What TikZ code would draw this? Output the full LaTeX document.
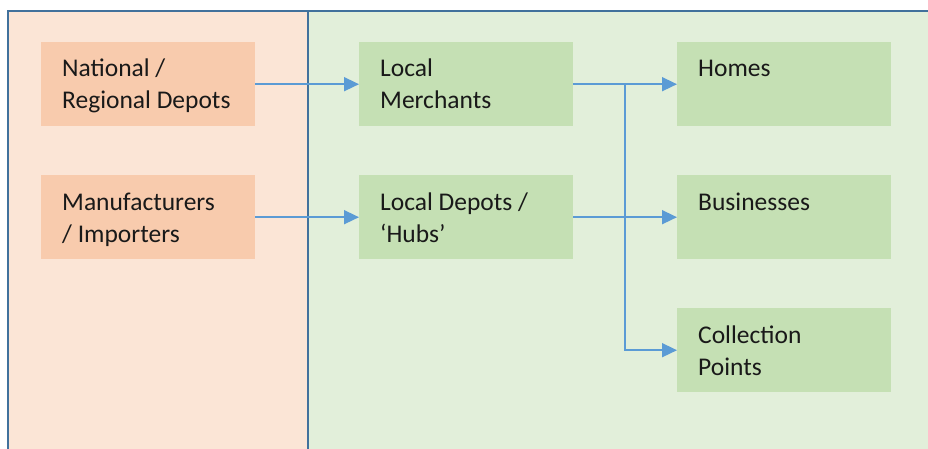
\documentclass[tikz,border=0pt]{standalone}
\usepackage{fontspec}
\setmainfont{Carlito}
\usetikzlibrary{arrows.meta}
\definecolor{pinkbg}{HTML}{FBE5D6}
\definecolor{pinkbox}{HTML}{F8CBAD}
\definecolor{greenbg}{HTML}{E2EFDA}
\definecolor{greenbox}{HTML}{C5E0B4}
\definecolor{framec}{HTML}{41719C}
\definecolor{arrowc}{HTML}{5B9BD5}
\begin{document}
\begin{tikzpicture}[x=1pt,y=-1pt,
  box/.style={minimum width=214pt, minimum height=84pt, inner sep=0pt, anchor=north west, draw=none},
  pbox/.style={box, fill=pinkbox},
  gbox/.style={box, fill=greenbox},
  lbl/.style={anchor=base west, inner sep=0pt, align=left, font=\fontsize{25.5}{32}\selectfont, text=black!90},
  conn/.style={draw=arrowc, line width=1.6pt, -{Triangle[length=15pt,width=14pt]}},
]
\useasboundingbox (0,0) rectangle (928,449);
\fill[white] (0,0) rectangle (928,449);
\fill[pinkbg] (8,11) rectangle (308,449);
\fill[greenbg] (308,11) rectangle (928,449);
\draw[framec, line width=2.5pt] (8,449) -- (8,11) -- (928,11);
\draw[framec, line width=2pt] (308,11) -- (308,449);

\node[pbox] (nat) at (41,42) {};
\node[pbox] (man) at (41,175) {};
\node[gbox] (mer) at (359,42) {};
\node[gbox] (dep) at (359,175) {};
\node[gbox] (hom) at (677,42) {};
\node[gbox] (bus) at (677,175) {};
\node[gbox] (col) at (677,308) {};

\node[lbl] (natt) at (62,109) {National /\\Regional Depots};
\node[lbl] (mant) at (62,242) {Manufacturers\\/ Importers};
\node[lbl] (mert) at (380,109) {Local\\Merchants};
\node[lbl] (dept) at (380,242) {Local Depots /\\‘Hubs’};
\node[lbl] (homt) at (698,77) {Homes};
\node[lbl] (bust) at (698,210) {Businesses};
\node[lbl] (colt) at (698,375) {Collection\\Points};

\draw[conn] (nat.east) -- (mer.west);
\draw[conn] (man.east) -- (dep.west);
\draw[conn] (mer.east) -- (hom.west);
\draw[conn] (dep.east) -- (bus.west);
\coordinate (j) at (625,84);
\draw[conn] (j) |- (col.west);
\end{tikzpicture}
\end{document}
